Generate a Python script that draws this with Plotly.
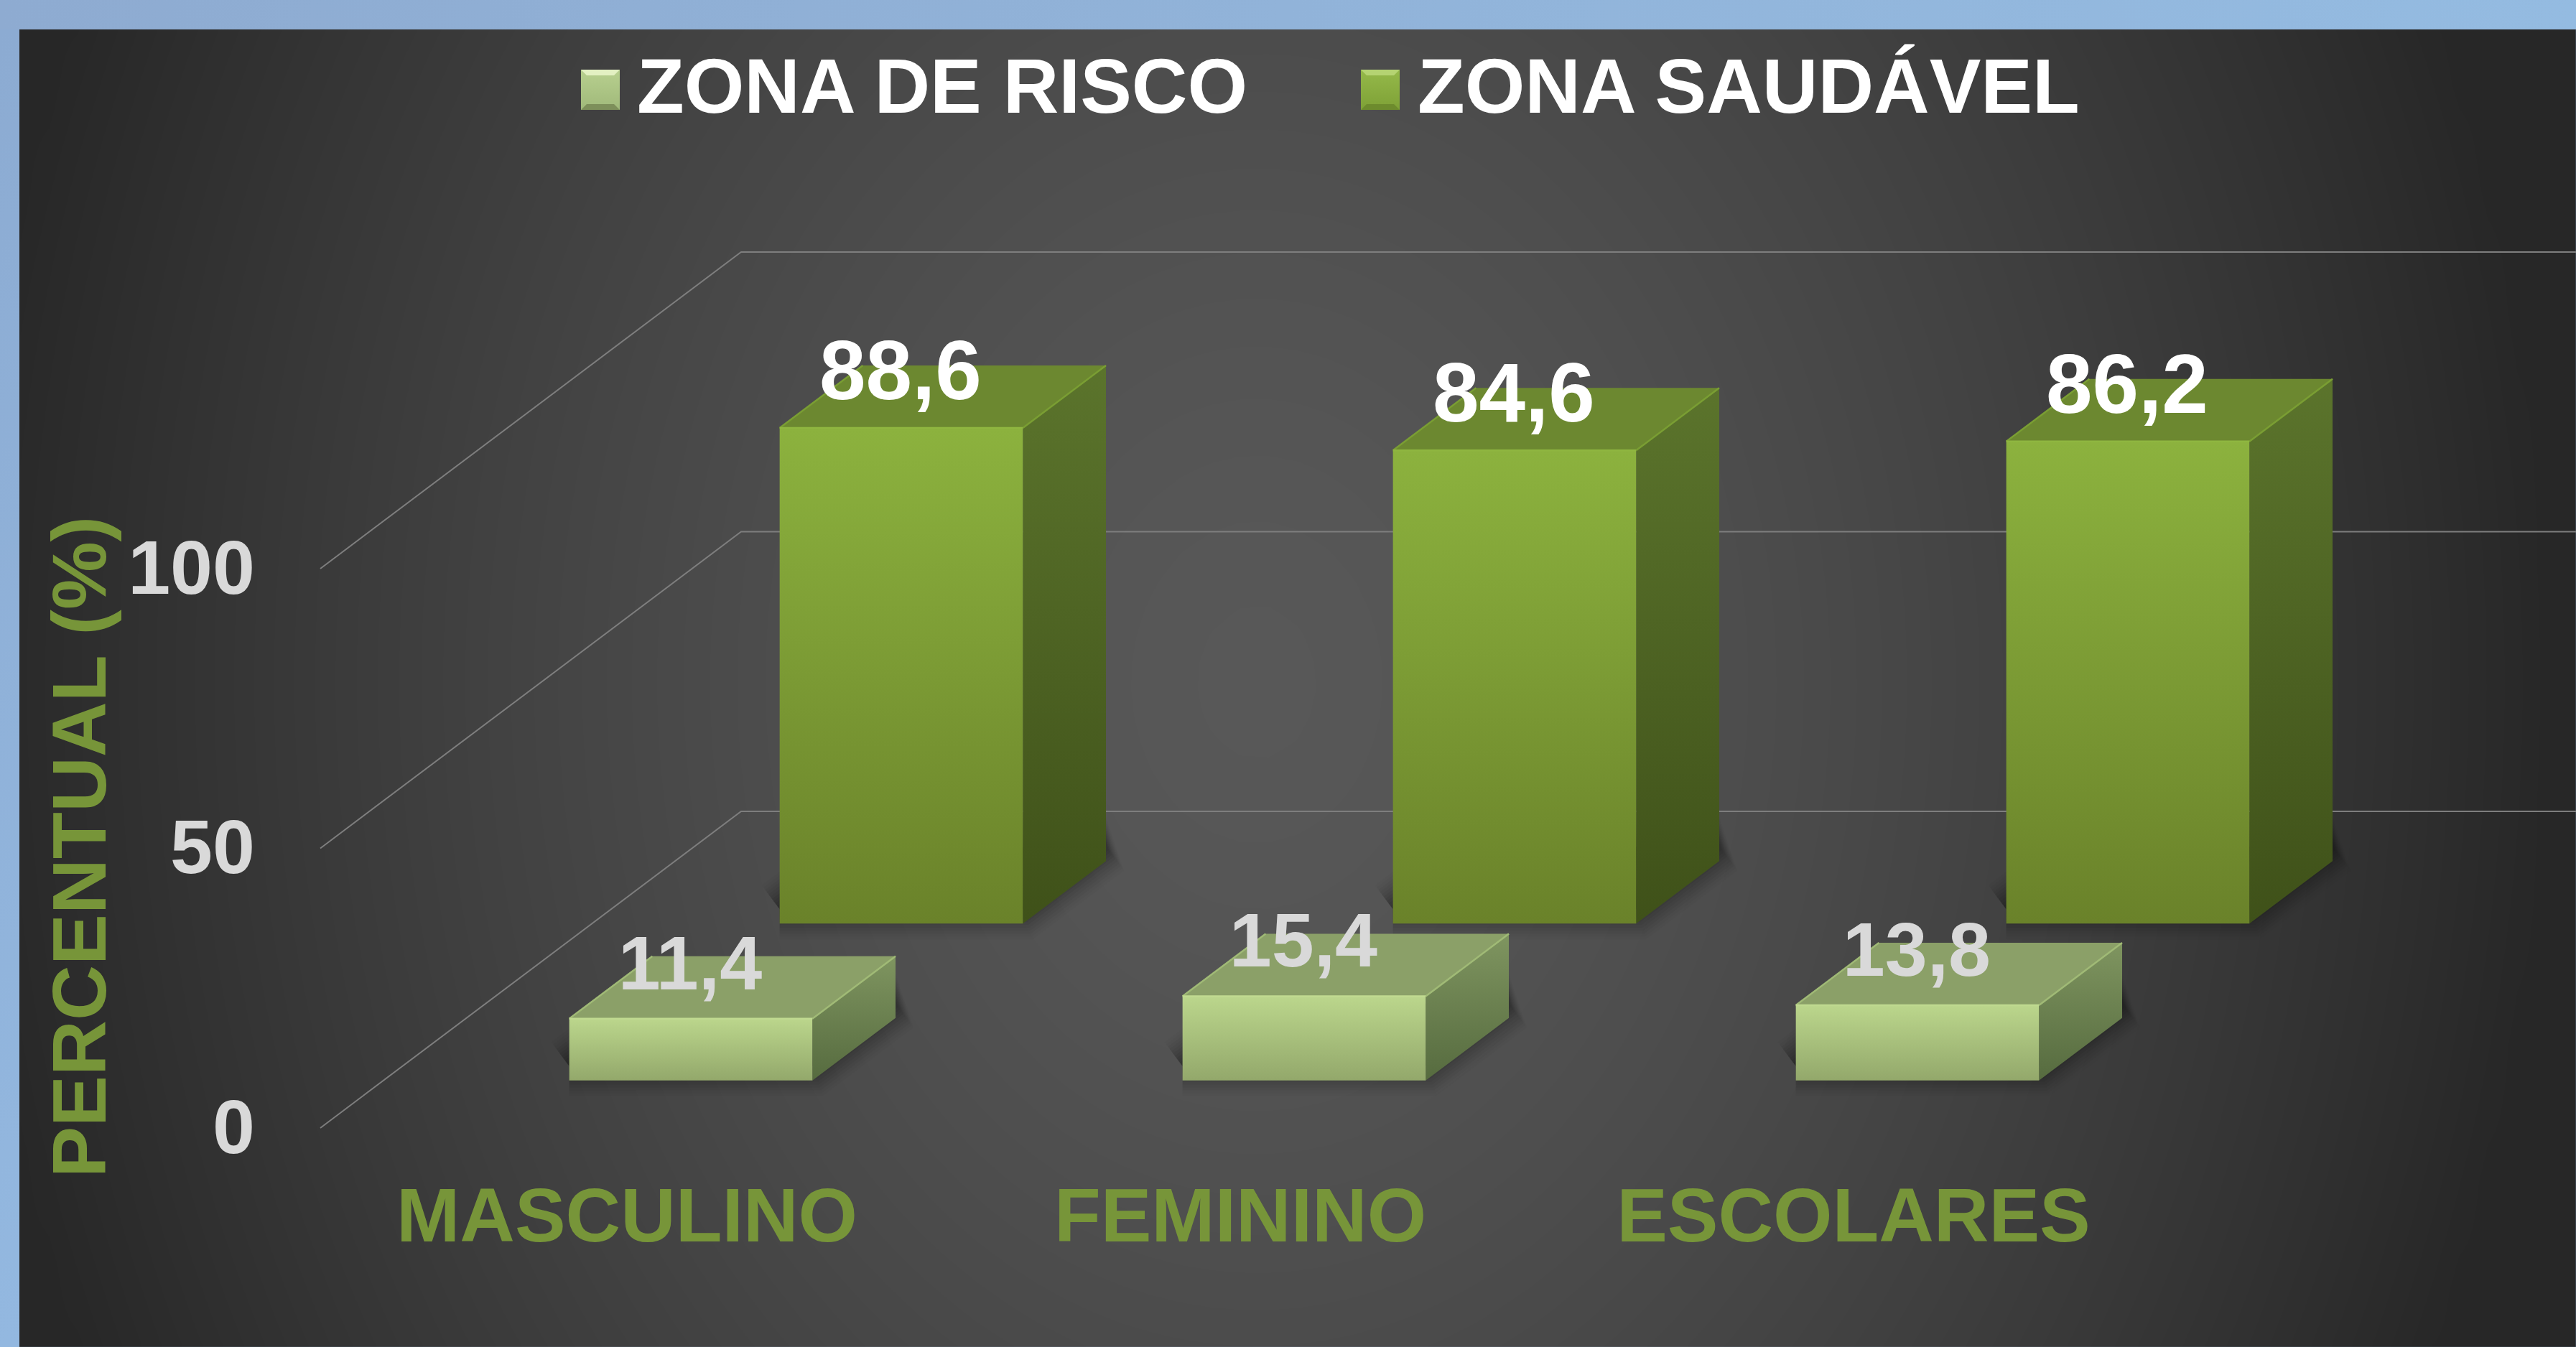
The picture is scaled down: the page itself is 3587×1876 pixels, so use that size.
import numpy as np
import plotly.graph_objects as go

# ---- chart values ----
categories = ["MASCULINO", "FEMININO", "ESCOLARES"]
series_names = ["ZONA DE RISCO", "ZONA SAUDÁVEL"]
zona_risco = [11.4, 15.4, 13.8]
zona_saudavel = [88.6, 84.6, 86.2]
risco_labels = ["11,4", "15,4", "13,8"]
saudavel_labels = ["88,6", "84,6", "86,2"]
y_ticks = [0, 50, 100]
y_title = "PERCENTUAL (%)"

# ---- canvas and oblique projection ----
W, H = 3587, 1876
ORIGIN_X, ORIGIN_Y = 446, 1571   # pixel of category 0 / depth 0 / value 0
PX_CAT, PX_VAL = 854, 7.79       # pixels per category, per percent
PX_DX, PX_DY = 293, 220.5        # pixels per depth step
KX, KY = PX_DX / PX_CAT, PX_DY / PX_VAL
X_RANGE = [(0 - ORIGIN_X) / PX_CAT, (W - ORIGIN_X) / PX_CAT]
Y_RANGE = [(ORIGIN_Y - H) / PX_VAL, ORIGIN_Y / PX_VAL]
BAR_W, BAR_D = 0.3965, 0.395
def P(c, d, v):
    return c + KX * d, v + KY * d
def dx_px(p):
    return p / PX_CAT
def dy_px(p):
    return -p / PX_VAL
def pix(px, py):
    return (px - ORIGIN_X) / PX_CAT, (ORIGIN_Y - py) / PX_VAL

GREEN = "#779539"
GREY = "#d9d9d9"
FONT = "Liberation Sans"
fig = go.Figure()

# ---- background ----
PANEL_L, PANEL_T = 27, 41
gx = np.linspace(PANEL_L, W + 40, 90)
gy = np.linspace(PANEL_T, H + 40, 50)
XX, YY = np.meshgrid(gx, gy)
t = np.sqrt(((XX - 1750) / 1800) ** 2 + ((YY - 950) / 2300) ** 2).clip(0, 1)
zbg = 0x58 - (0x58 - 0x27) * t ** 1.5
hx = [(v - ORIGIN_X) / PX_CAT for v in gx]
hy = [(ORIGIN_Y - v) / PX_VAL for v in gy]
fig.add_trace(go.Heatmap(x=hx, y=hy, z=zbg, zmin=0, zmax=255, zsmooth="best",
                         colorscale=[[0, "#000000"], [1, "#ffffff"]],
                         showscale=False, hoverinfo="skip"))

def poly(pts, color=None, grad=None, gtype="vertical", line=None, lw=0):
    xs = [p[0] for p in pts] + [pts[0][0]]
    ys = [p[1] for p in pts] + [pts[0][1]]
    kw = dict(x=xs, y=ys, mode="lines", fill="toself", hoverinfo="skip", showlegend=False,
              line=dict(color=line or "rgba(0,0,0,0)", width=lw))
    if grad:
        kw["fillgradient"] = dict(type=gtype, colorscale=[[0, grad[0]], [1, grad[1]]])
    else:
        kw["fillcolor"] = color
    fig.add_trace(go.Scatter(**kw))

# blue page band
poly([pix(0, 0), pix(W, 0), pix(W, PANEL_T), pix(0, PANEL_T)], grad=("#8eabd1", "#94bbe1"), gtype="horizontal")
poly([pix(0, PANEL_T), pix(PANEL_L, PANEL_T), pix(PANEL_L, H), pix(0, H)], grad=("#93b8e0", "#8cabd2"))

# ---- gridlines ----
for v in y_ticks:
    a, b, c = P(0, 0, v), P(0, 2, v), P(3, 2, v)
    fig.add_trace(go.Scatter(x=[a[0], b[0], c[0]], y=[a[1], b[1], c[1]], mode="lines",
                             line=dict(color="#7e7e7e", width=2), hoverinfo="skip", showlegend=False))

# ---- bars ----
STYLES = {
    0: dict(front=("#93a86b", "#bbd68c"), top="#8ba068", side=("#566b3f", "#7f9560"),
            hi="#a0ba76", edge="#c0da90", base=0.0, trim=-0.35, c_off=0.003),
    1: dict(front=("#6a822a", "#8cb23e"), top="#6c8830", side=("#3f5119", "#5b742c"),
            hi="#7a9e33", edge="#8fb640", base=-0.25, trim=-0.25, c_off=0.003),
}
def draw_series(values, s):
    st = STYLES[s]
    off, base, trim = st["c_off"], st["base"], st["trim"]
    # soft contact shadow from the bar footprints
    for width, alpha in zip(range(84, 4, -8), [0.015, 0.02, 0.03, 0.035, 0.04, 0.045, 0.05, 0.05, 0.05, 0.05]):
        xs, ys = [], []
        for i in range(len(values)):
            c0, c1, d0, d1 = i + .3 + off, i + .3 + off + BAR_W, s + .3, s + .3 + BAR_D
            for c, d in [(c0, d0), (c1, d0), (c1, d1), (c0, d1), (c0, d0)]:
                x, y = P(c, d, base)
                xs.append(x); ys.append(y + 20 / PX_VAL)
            xs.append(None); ys.append(None)
        fig.add_trace(go.Scatter(x=xs, y=ys, mode="lines", fill="toself",
                                 fillcolor=f"rgba(0,0,0,{alpha})",
                                 line=dict(color=f"rgba(0,0,0,{alpha})", width=width),
                                 hoverinfo="skip", showlegend=False))
    for i, v in enumerate(values):
        c0, c1, d0, d1 = i + .3 + off, i + .3 + off + BAR_W, s + .3, s + .3 + BAR_D
        h = v + trim
        # side
        poly([P(c1, d0, base), P(c1, d1, base), P(c1, d1, h), P(c1, d0, h)], grad=st["side"])
        # top
        poly([P(c0, d0, h), P(c1, d0, h), P(c1, d1, h), P(c0, d1, h)], color=st["top"])
        # front
        poly([P(c0, d0, base), P(c1, d0, base), P(c1, d0, h), P(c0, d0, h)], grad=st["front"])
        # bevel highlights
        for a, b, col in [(P(c1, d0, h), P(c1, d1, h), st["hi"]), (P(c0, d0, h), P(c0, d1, h), st["hi"]),
                          (P(c0, d0, h), P(c1, d0, h), st["edge"])]:
            fig.add_trace(go.Scatter(x=[a[0], b[0]], y=[a[1], b[1]], mode="lines",
                                     line=dict(color=col, width=2.5), hoverinfo="skip", showlegend=False))

draw_series(zona_saudavel, 1)
draw_series(zona_risco, 0)

# ---- value labels ----
def value_labels(values, labels, s, color, lift, size):
    xs, ys = [], []
    for i, v in enumerate(values):
        x, y = P(i + .5, s + .3, v)
        xs.append(x); ys.append(y + lift / PX_VAL)
    fig.add_trace(go.Scatter(x=xs, y=ys, text=labels, mode="text", textposition="middle center",
                             textfont=dict(family=FONT, size=size, color=color, weight="bold"),
                             hoverinfo="skip", showlegend=False, cliponaxis=False))
value_labels(zona_saudavel, saudavel_labels, 1, "#ffffff", 67, 116)
value_labels(zona_risco, risco_labels, 0, GREY, 65, 106)

# ---- axis labels ----
tx = [P(0, 0, v)[0] + dx_px(-91) for v in y_ticks]
fig.add_trace(go.Scatter(x=tx, y=[v + dy_px(8) for v in y_ticks], text=[str(v) for v in y_ticks], mode="text",
                         textposition="middle left",
                         textfont=dict(family=FONT, size=106, color=GREY, weight="bold"),
                         hoverinfo="skip", showlegend=False, cliponaxis=False))
fig.add_trace(go.Scatter(x=[i + .5 for i in range(len(categories))], y=[dy_px(131)] * len(categories),
                         text=categories, mode="text", textposition="middle center",
                         textfont=dict(family=FONT, size=106, color=GREEN, weight="bold"),
                         hoverinfo="skip", showlegend=False, cliponaxis=False))

annotations = [dict(text=f"<b>{y_title}</b>", x=110 / W, y=1 - 1180 / H, xref="paper", yref="paper",
                    textangle=-90, showarrow=False, xanchor="center", yanchor="middle",
                    font=dict(family=FONT, size=106.5, color=GREEN))]

# ---- legend ----
LEG = [(809, 885, ("#a0b97a", "#b8d08f"), "#e3f0c2", "#7d8f5a"),
       (1895, 1972, ("#7ea136", "#95b94a"), "#b5d372", "#6d8b2d")]
for name, (mx, tx_, grad, up, down) in zip(series_names, LEG):
    L, R, T, B, b = mx, mx + 54, 97, 153, 8
    poly([pix(L, B), pix(R, B), pix(R, T), pix(L, T)], grad=grad)
    poly([pix(L, T), pix(R, T), pix(R - b, T + b), pix(L + b, T + b)], color=up)
    poly([pix(L, B), pix(R, B), pix(R - b, B - b), pix(L + b, B - b)], color=down)
    annotations.append(dict(text=f"<b>{name}</b>", x=tx_ / W, y=1 - 120 / H, xref="paper", yref="paper",
                            showarrow=False, xanchor="left", yanchor="middle",
                            font=dict(family=FONT, size=107.5, color="#ffffff")))

fig.update_layout(
    width=W, height=H, margin=dict(l=0, r=0, t=0, b=0, pad=0),
    paper_bgcolor="#8fb0d8", plot_bgcolor="rgba(0,0,0,0)", showlegend=False,
    xaxis=dict(range=X_RANGE, visible=False, fixedrange=True),
    yaxis=dict(range=Y_RANGE, visible=False, fixedrange=True),
    annotations=annotations, hovermode=False,
)
fig.write_html("out.html", config={"displayModeBar": False},
               post_script="document.body.style.margin='0';document.body.style.overflow='hidden';")
